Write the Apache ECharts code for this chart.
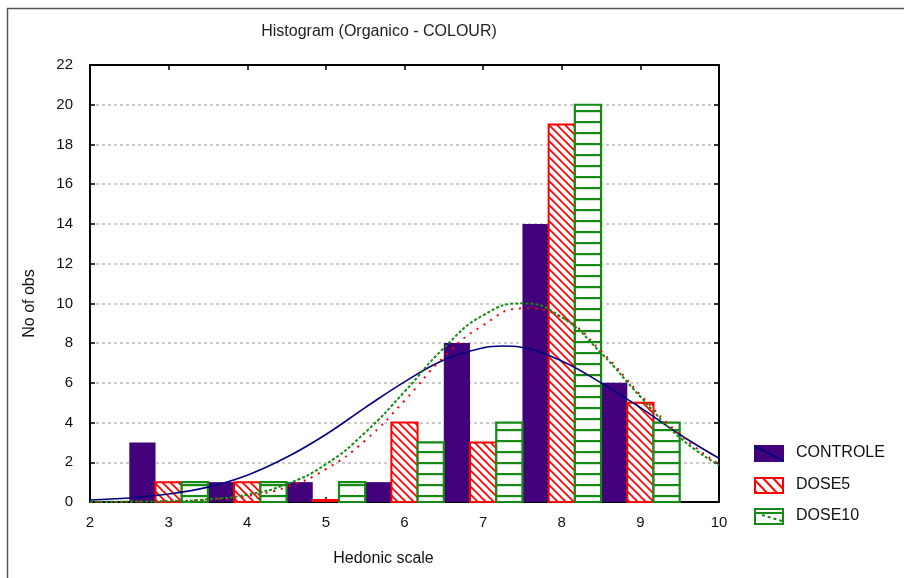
<!DOCTYPE html>
<html><head><meta charset="utf-8">
<script src="https://cdn.jsdelivr.net/npm/echarts@6/dist/echarts.min.js"></script>
<style>html,body{margin:0;padding:0;background:#fff}#c{width:904px;height:578px}</style>
</head><body><div id="c"></div>
<script>
// ---- data ----
var titleText = 'Histogram (Organico - COLOUR)';
var xName = 'Hedonic scale';
var yName = 'No of obs';
var seriesNames = ['CONTROLE', 'DOSE5', 'DOSE10'];
var categories = [3, 4, 5, 6, 7, 8, 9];
var controle = [3, 1, 1, 1, 8, 14, 6];
var dose5 = [1, 1, 0, 4, 3, 19, 5];
var dose10 = [1, 1, 1, 3, 4, 20, 4];
var controleFitX = [2, 2.5, 3, 3.5, 4, 4.5, 5, 5.5, 6, 6.5, 7, 7.25, 7.5, 8, 8.5, 9, 9.5, 10];
var controleFit = [0.1, 0.2, 0.4, 0.75, 1.35, 2.25, 3.4, 4.75, 6.05, 7.15, 7.76, 7.85, 7.78, 7.1, 6.0, 4.75, 3.4, 2.2];
var curveX = [2, 2.5, 3, 3.5, 4, 4.5, 5, 5.5, 6, 6.5, 7, 7.5, 8, 8.5, 9, 9.5, 10];
var dose5Fit = [0.0, 0.01, 0.03, 0.12, 0.3, 0.75, 1.65, 3.1, 5.1, 7.3, 8.9, 9.75, 9.3, 7.6, 5.4, 3.4, 1.9];
var dose10Fit = [0.01, 0.02, 0.04, 0.14, 0.37, 0.9, 1.9, 3.5, 5.55, 7.75, 9.4, 10.0, 9.3, 7.5, 5.3, 3.25, 1.85];

var PURPLE = '#42007a', NAVY = '#000080', RED = '#ff0000', GREEN = '#158a15';
var FONT = "'Liberation Sans', Arial, sans-serif";

function mkCanvas(w, h) { var c = document.createElement('canvas'); c.width = w; c.height = h; return c; }
// hatch tiles
var redTile = mkCanvas(8, 8);
(function () {
  var g = redTile.getContext('2d'); g.fillStyle = '#fff'; g.fillRect(0, 0, 8, 8);
  g.strokeStyle = RED; g.lineWidth = 1.7;
  [-8, 0, 8].forEach(function (o) { g.beginPath(); g.moveTo(o - 1, -1); g.lineTo(o + 9, 9); g.stroke(); });
})();
var greenTile = mkCanvas(8, 11);
(function () {
  var g = greenTile.getContext('2d'); g.fillStyle = '#fff'; g.fillRect(0, 0, 8, 11);
  g.fillStyle = GREEN; g.fillRect(0, 0, 8, 2.2);
})();
var redPattern = { image: redTile, repeat: 'repeat' };
var greenPattern = { image: greenTile, repeat: 'repeat' };

function pairs(xs, ys) { return xs.map(function (x, i) { return [x, ys[i]]; }); }

function barSeries(name, vals, idx, style) {
  return {
    type: 'custom', name: name, z: 3,
    data: pairs(categories, vals),
    renderItem: function (params, api) {
      var x = api.value(0), y = api.value(1);
      var p0 = api.coord([x - 0.5 + idx / 3, y]);
      var p1 = api.coord([x - 0.5 + (idx + 1) / 3, 0]);
      var top = p0[1], h = p1[1] - p0[1];
      if (h < 2) { top = p1[1] - 2; h = 1; } // zero-count bin: thin outline on the baseline
      return {
        type: 'rect',
        shape: { x: p0[0], y: top, width: p1[0] - p0[0], height: h },
        style: style
      };
    }
  };
}

// legend icons
function iconCanvas(kind) {
  var c = mkCanvas(30, 17), g = c.getContext('2d');
  if (kind === 0) {
    g.fillStyle = PURPLE; g.fillRect(0, 0, 30, 17);
    g.strokeStyle = NAVY; g.lineWidth = 1.6; g.beginPath(); g.moveTo(0, 1); g.lineTo(30, 16); g.stroke();
  } else if (kind === 1) {
    g.fillStyle = '#fff'; g.fillRect(0, 0, 30, 17);
    g.strokeStyle = RED; g.lineWidth = 2;
    [-10, 0, 10, 20, 30].forEach(function (o) { g.beginPath(); g.moveTo(o - 2, 0); g.lineTo(o + 14, 17); g.stroke(); });
    g.strokeRect(1, 1, 28, 15);
  } else {
    g.fillStyle = '#fff'; g.fillRect(0, 0, 30, 17);
    g.strokeStyle = GREEN; g.lineWidth = 2; g.strokeRect(1, 1, 28, 15);
    g.fillStyle = GREEN; g.fillRect(1, 4, 28, 2);
    g.setLineDash([3, 3]); g.beginPath(); g.moveTo(8, 7); g.lineTo(28, 13); g.stroke();
  }
  return c;
}
var legendY = [445, 477, 508];
var legendGraphics = [];
seriesNames.forEach(function (n, i) {
  legendGraphics.push({ type: 'image', left: 754, top: legendY[i], style: { image: iconCanvas(i), width: 30, height: 17 } });
  legendGraphics.push({ type: 'text', left: 796, top: legendY[i] + 0, style: { text: n, font: '16px ' + FONT, fill: '#111' } });
});

var chart = echarts.init(document.getElementById('c'), null, { renderer: 'canvas' });
var axisLabel = { color: '#111', fontSize: 15, fontFamily: FONT };
chart.setOption({
  animation: false,
  backgroundColor: '#fff',
  title: { text: titleText, left: 374, top: 19, textAlign: 'center',
    textStyle: { fontSize: 16, fontWeight: 'normal', color: '#222', fontFamily: FONT } },
  grid: { left: 90, right: 185, top: 65, bottom: 76 },
  xAxis: [
    { type: 'value', min: 2, max: 10, interval: 1, position: 'bottom',
      name: xName, nameLocation: 'middle', nameGap: 49,
      nameTextStyle: { fontSize: 16, color: '#111', fontFamily: FONT, padding: [0, 42, 0, 0] },
      axisLine: { onZero: false, lineStyle: { color: '#000', width: 2 } },
      axisTick: { inside: true, length: 5, lineStyle: { color: '#000', width: 1.5 } },
      axisLabel: Object.assign({ margin: 13 }, axisLabel), splitLine: { show: false } },
    { type: 'value', min: 2, max: 10, interval: 1, position: 'top',
      axisLine: { onZero: false, lineStyle: { color: '#000', width: 2 } },
      axisTick: { inside: true, length: 5, lineStyle: { color: '#000', width: 1.5 } },
      axisLabel: { show: false }, splitLine: { show: false } }
  ],
  yAxis: [
    { type: 'value', min: 0, max: 22, interval: 2, position: 'left',
      name: yName, nameLocation: 'middle', nameGap: 52,
      nameTextStyle: { fontSize: 16, color: '#111', fontFamily: FONT, padding: [0, 40, 0, 0] },
      axisLine: { show: true, onZero: false, lineStyle: { color: '#000', width: 2 } },
      axisTick: { show: true, inside: true, length: 5, lineStyle: { color: '#000', width: 1.5 } },
      axisLabel: Object.assign({ margin: 17 }, axisLabel),
      splitLine: { show: true, lineStyle: { color: '#bbb', type: [3, 3], width: 1.5 } } },
    { type: 'value', min: 0, max: 22, interval: 2, position: 'right',
      axisLine: { show: true, onZero: false, lineStyle: { color: '#000', width: 2 } },
      axisTick: { show: true, inside: true, length: 5, lineStyle: { color: '#000', width: 1.5 } },
      axisLabel: { show: false }, splitLine: { show: false } }
  ],
  graphic: [
    { type: 'line', shape: { x1: 7.5, y1: 8, x2: 7.5, y2: 578 }, style: { stroke: '#555', lineWidth: 1.5 } },
    { type: 'line', shape: { x1: 7, y1: 8.5, x2: 904, y2: 8.5 }, style: { stroke: '#555', lineWidth: 1.5 } }
  ].concat(legendGraphics),
  series: [
    barSeries('CONTROLE', controle, 0, { fill: PURPLE }),
    barSeries('DOSE5', dose5, 1, { fill: redPattern, stroke: RED, lineWidth: 2 }),
    barSeries('DOSE10', dose10, 2, { fill: greenPattern, stroke: GREEN, lineWidth: 2.2 }),
    { type: 'line', name: 'CONTROLE fit', data: pairs(controleFitX, controleFit), smooth: 0.4, symbol: 'none', z: 5,
      lineStyle: { color: NAVY, width: 1.6 } },
    { type: 'line', name: 'DOSE5 fit', data: pairs(curveX, dose5Fit), smooth: true, symbol: 'none', z: 5,
      lineStyle: { color: RED, width: 2, type: [2, 6] } },
    { type: 'line', name: 'DOSE10 fit', data: pairs(curveX, dose10Fit), smooth: true, symbol: 'none', z: 6,
      lineStyle: { color: GREEN, width: 2, type: [3, 2] } }
  ]
});
</script></body></html>
